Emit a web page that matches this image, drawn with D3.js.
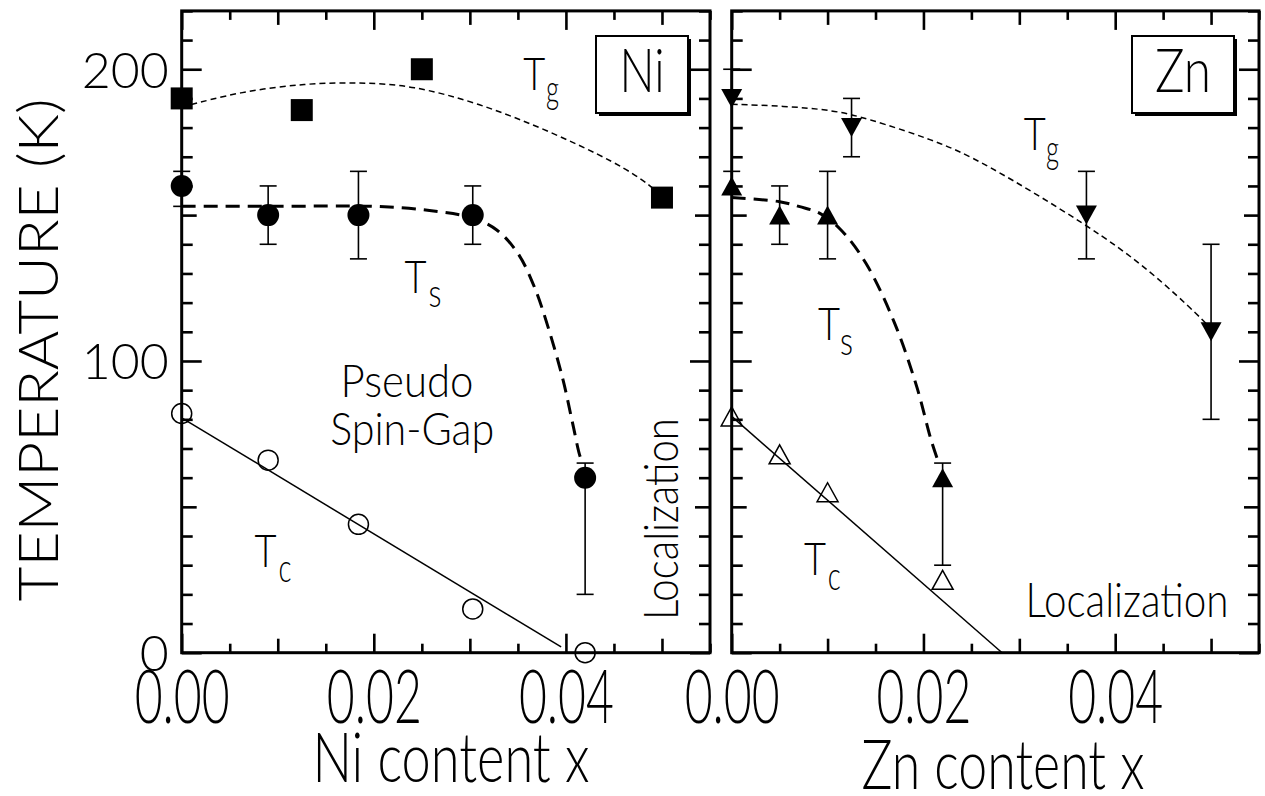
<!DOCTYPE html>
<meta charset="utf-8">
<style>
  body { margin: 0; background: #fff; }
  svg { display: block; }
  text { font-family: Lato, "Liberation Sans", Arial, sans-serif; font-weight: 300; fill: #000; }
</style>
<body>
<div id="chart"></div>
<script src="https://cdn.jsdelivr.net/npm/d3@7"></script>
<script>
// ---------- data ----------
// Ni panel
var niTgX = [0, 0.0125, 0.025, 0.05];
var niTgT = [190, 186, 200, 156];
var niTsX = [0, 0.009, 0.0184, 0.0303, 0.042];
var niTsT = [160, 150, 150, 150, 60];
var niTsErrUp = [5, 10, 15, 10, 5];
var niTsErrDn = [7, 10, 15, 10, 40];
var niTcX = [0, 0.009, 0.0184, 0.0303, 0.042];
var niTcT = [82, 66, 44, 15, 0];
// Ni guide lines
var niTgCurveX = [0, 0.006, 0.013, 0.0185, 0.024, 0.031, 0.038, 0.0454, 0.049, 0.05];
var niTgCurveT = [187, 192.3, 195.2, 195.5, 194.5, 188.3, 179.2, 167.8, 159.8, 156];
var niTsCurveX = [0, 0.01, 0.02, 0.026, 0.0303, 0.0328, 0.035, 0.0367, 0.0382, 0.0397, 0.0407, 0.0415, 0.0418];
var niTsCurveT = [153, 153, 153, 151.5, 149, 144.9, 136.9, 125.5, 111, 93.5, 78.6, 67, 65];
var niTcLineX = [0, 0.0395];
var niTcLineT = [80.5, 2];

// Zn panel
var znTgX = [0, 0.0125, 0.037, 0.05];
var znTgT = [190, 180, 150, 110];
var znTgErrUp = [10, 10, 15, 30];
var znTgErrDn = [0, 10, 15, 30];
var znTsX = [0, 0.005, 0.01, 0.022];
var znTsT = [160, 150, 150, 60];
var znTsErrUp = [5, 10, 15, 5];
var znTsErrDn = [0, 10, 15, 30];
var znTcX = [0, 0.005, 0.01, 0.022];
var znTcT = [81, 68, 55, 25];
// Zn guide lines
var znTgCurveX = [0, 0.0054, 0.0106, 0.0141, 0.021, 0.0259, 0.0374, 0.0436, 0.0492, 0.05];
var znTgCurveT = [188, 187.4, 186, 183.2, 175.8, 168.9, 146, 131.2, 114, 111];
var znTsCurveX = [0, 0.005, 0.0071, 0.0092, 0.0114, 0.014, 0.017, 0.0193, 0.0208, 0.0216];
var znTsCurveT = [156, 154.6, 152.9, 150.6, 144.9, 133.5, 112.9, 91.2, 72.9, 65];
var znTcLineX = [0, 0.0282];
var znTcLineT = [81, 0];

// axes
var xDomain = [0, 0.055];
var yDomain = [0, 220];
var xTickLabels = [0, 0.02, 0.04];
var yTickLabels = [0, 100, 200];

// ---------- layout ----------
var W = 1265, H = 796;
var svg = d3.select("#chart").append("svg").attr("width", W).attr("height", H);
svg.append("rect").attr("width", W).attr("height", H).attr("fill", "#fff");

var y = d3.scaleLinear().domain(yDomain).range([652.7, 10.9]);
var xL = d3.scaleLinear().domain(xDomain).range([181.7, 710]);
var xR = d3.scaleLinear().domain(xDomain).range([731.7, 1259]);

function zip(a, b) { return a.map(function (v, i) { return [v, b[i]]; }); }

function drawFrame(x) {
  var g = svg.append("g");
  var xs = d3.range(0, 0.05501, 0.005);
  var ys = d3.range(0, 220.1, 10);
  var xLevels = [
    [xs.filter(function (v) { return Math.round(v / 0.005) % 2 === 1; }), 9],
    [xs.filter(function (v) { var k = Math.round(v / 0.005); return k % 2 === 0 && k % 4 !== 0; }), 14],
    [xs.filter(function (v) { return Math.round(v / 0.005) % 4 === 0; }), 19]
  ];
  var yLevels = [
    [ys.filter(function (v) { return Math.round(v) % 50 !== 0; }), 11],
    [ys.filter(function (v) { return Math.round(v) % 50 === 0 && Math.round(v) % 100 !== 0; }), 15],
    [ys.filter(function (v) { return Math.round(v) % 100 === 0; }), 20]
  ];
  var sides = [
    [function () { return d3.axisBottom(x); }, "translate(0," + y(yDomain[0]) + ")", xLevels],
    [function () { return d3.axisTop(x); }, "translate(0," + y(yDomain[1]) + ")", xLevels],
    [function () { return d3.axisLeft(y); }, "translate(" + x(xDomain[0]) + ",0)", yLevels],
    [function () { return d3.axisRight(y); }, "translate(" + x(xDomain[1]) + ",0)", yLevels]
  ];
  sides.forEach(function (s) {
    s[2].forEach(function (lv) {
      g.append("g").attr("transform", s[1])
        .call(s[0]().tickValues(lv[0]).tickSize(-lv[1]).tickFormat(""))
        .call(function (a) { a.select(".domain").remove(); })
        .selectAll("line").attr("stroke", "#000").attr("stroke-width", 2.6);
    });
  });
  g.append("rect")
    .attr("x", x(xDomain[0])).attr("y", y(yDomain[1]))
    .attr("width", x(xDomain[1]) - x(xDomain[0]))
    .attr("height", y(yDomain[0]) - y(yDomain[1]))
    .attr("fill", "none").attr("stroke", "#000").attr("stroke-width", 3);

  // x tick labels
  g.append("g").attr("transform", "translate(0," + y(0) + ")")
    .call(d3.axisBottom(x).tickValues(xTickLabels).tickSize(0).tickFormat(d3.format(".2f")))
    .call(function (a) { a.select(".domain").remove(); })
    .selectAll("text")
    .attr("y", 70).attr("dy", 0)
    .attr("font-size", 74)
    .attr("font-family", null)
    .attr("textLength", 95).attr("lengthAdjust", "spacingAndGlyphs");
}

function label(text, px, py, size, len, anchor, rot) {
  var t = svg.append("text")
    .attr("x", px).attr("y", py)
    .attr("font-size", size)
    .attr("text-anchor", anchor || "start")
    .text(text);
  if (len) t.attr("textLength", len).attr("lengthAdjust", "spacingAndGlyphs");
  if (rot) t.attr("transform", "rotate(" + rot + "," + px + "," + py + ")");
  return t;
}

function curve(x, xs, ts, width, dash, kind) {
  svg.append("path")
    .datum(zip(xs, ts))
    .attr("fill", "none").attr("stroke", "#000")
    .attr("stroke-width", width)
    .attr("stroke-dasharray", dash)
    .attr("d", d3.line().x(function (d) { return x(d[0]); }).y(function (d) { return y(d[1]); })
      .curve(kind || d3.curveCatmullRom.alpha(0.5)));
}

function errorBars(x, xs, ts, up, dn) {
  var g = svg.append("g").attr("stroke", "#000").attr("stroke-width", 1.6);
  xs.forEach(function (v, i) {
    var cx = x(v), top = y(ts[i] + up[i]), bot = y(ts[i] - dn[i]);
    g.append("line").attr("x1", cx).attr("x2", cx).attr("y1", top).attr("y2", bot);
    if (up[i] > 0) g.append("line").attr("x1", cx - 8.5).attr("x2", cx + 8.5).attr("y1", top).attr("y2", top);
    if (dn[i] > 0) g.append("line").attr("x1", cx - 8.5).attr("x2", cx + 8.5).attr("y1", bot).attr("y2", bot);
  });
}

function triPath(cx, cy, up) {
  var w = 21, h = 19;
  return up
    ? "M" + cx + "," + (cy - h / 2) + "L" + (cx + w / 2) + "," + (cy + h / 2) + "L" + (cx - w / 2) + "," + (cy + h / 2) + "Z"
    : "M" + cx + "," + (cy + h / 2) + "L" + (cx + w / 2) + "," + (cy - h / 2) + "L" + (cx - w / 2) + "," + (cy - h / 2) + "Z";
}

// ---------- frames ----------
drawFrame(xL);
drawFrame(xR);

// y tick labels (left only)
svg.append("g").attr("transform", "translate(" + xL(0) + ",0)")
  .call(d3.axisLeft(y).tickValues(yTickLabels).tickSize(0).tickPadding(13))
  .call(function (a) { a.select(".domain").remove(); })
  .selectAll("text")
  .attr("font-size", 50)
  .attr("font-family", null)
  .attr("dy", "0.36em");

// ---------- Ni panel ----------
curve(xL, niTgCurveX, niTgCurveT, 1.5, "6,4", d3.curveBasis);
curve(xL, niTsCurveX, niTsCurveT, 3, "14,8");
curve(xL, niTcLineX, niTcLineT, 1.5, null);
errorBars(xL, niTsX, niTsT, niTsErrUp, niTsErrDn);

svg.append("g").selectAll("rect").data(zip(niTgX, niTgT)).join("rect")
  .attr("x", function (d) { return xL(d[0]) - 11; })
  .attr("y", function (d) { return y(d[1]) - 11; })
  .attr("width", 22).attr("height", 22).attr("fill", "#000");
svg.append("g").selectAll("circle").data(zip(niTsX, niTsT)).join("circle")
  .attr("cx", function (d) { return xL(d[0]); })
  .attr("cy", function (d) { return y(d[1]); })
  .attr("r", 11).attr("fill", "#000");
svg.append("g").selectAll("circle").data(zip(niTcX, niTcT)).join("circle")
  .attr("cx", function (d) { return xL(d[0]); })
  .attr("cy", function (d) { return y(d[1]); })
  .attr("r", 10).attr("fill", "none").attr("stroke", "#000").attr("stroke-width", 1.5);

// ---------- Zn panel ----------
curve(xR, znTgCurveX, znTgCurveT, 1.5, "6,4", d3.curveBasis);
curve(xR, znTsCurveX, znTsCurveT, 3, "14,8");
curve(xR, znTcLineX, znTcLineT, 1.5, null);
errorBars(xR, znTgX, znTgT, znTgErrUp, znTgErrDn);
errorBars(xR, znTsX, znTsT, znTsErrUp, znTsErrDn);

svg.append("g").selectAll("path").data(zip(znTgX, znTgT)).join("path")
  .attr("d", function (d) { return triPath(xR(d[0]), y(d[1]), false); })
  .attr("fill", "#000");
svg.append("g").selectAll("path").data(zip(znTsX, znTsT)).join("path")
  .attr("d", function (d) { return triPath(xR(d[0]), y(d[1]), true); })
  .attr("fill", "#000");
svg.append("g").selectAll("path").data(zip(znTcX, znTcT)).join("path")
  .attr("d", function (d) { return triPath(xR(d[0]), y(d[1]), true); })
  .attr("fill", "none").attr("stroke", "#000").attr("stroke-width", 1.5);

// ---------- panel labels ----------
function panelBox(x0, y0, w, h, name, len) {
  svg.append("rect").attr("x", x0 + 3).attr("y", y0 + 3).attr("width", w).attr("height", h).attr("fill", "#000");
  svg.append("rect").attr("x", x0).attr("y", y0).attr("width", w).attr("height", h)
    .attr("fill", "#fff").attr("stroke", "#000").attr("stroke-width", 2);
  label(name, x0 + w / 2, y0 + 56, 62, len, "middle");
}
panelBox(596, 36, 92, 77, "Ni", 45);
panelBox(1132, 36, 102, 77, "Zn", 56);

// ---------- text annotations ----------
function sub(x, main, s, mx, mt, sx, st) {
  label(main, x(mx), y(mt), 46, 22, "start");
  label(s, x(sx), y(st), 40, 13, "start");
}
sub(xL, "T", "g", 0.03557, 192.9, 0.03793, 188.4);
sub(xL, "T", "s", 0.0232, 123.2, 0.0257, 118.6);
sub(xL, "T", "c", 0.00758, 29.5, 0.01009, 24.3);
sub(xR, "T", "g", 0.03047, 172.3, 0.03278, 167.9);
sub(xR, "T", "s", 0.009, 107.2, 0.0113, 102);
sub(xR, "T", "c", 0.00754, 26.6, 0.01001, 21.5);

label("Pseudo", xL(0.02346), y(87.8), 46, 133, "middle");
label("Spin-Gap", xL(0.024), y(71.2), 46, 164, "middle");
label("Localization", xL(0.05167), y(11.2), 47, 202, "start", -90);
label("Localization", xR(0.03065), y(12.3), 47, 203, "start");

// axis titles
label("Ni content x", 451, 782, 68, 277, "middle");
label("Zn content x", 1003, 789, 68, 283, "middle");
label("TEMPERATURE (K)", 58, 350, 56, 503, "middle", -90);
</script>
</body>
